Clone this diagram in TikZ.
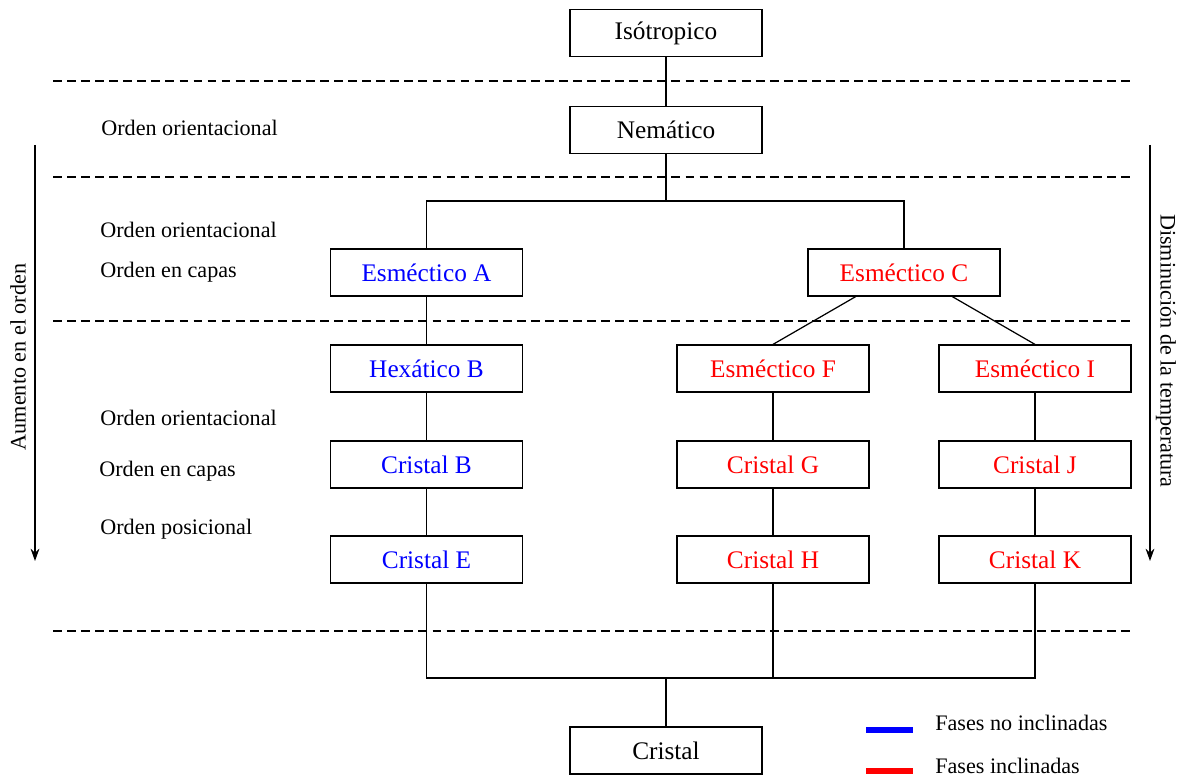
\documentclass[tikz,border=0pt]{standalone}
\usepackage{fontspec}
\setmainfont{Liberation Serif}
\usetikzlibrary{calc,arrows.meta}

\begin{document}
\begin{tikzpicture}[x=0.02cm,y=-0.02cm,
    fase/.style={draw, line width=0.7pt, minimum width=3.84cm, minimum height=0.94cm,
      inner sep=0pt, font=\fontsize{14.4}{17}\selectfont},
    etiqueta/.style={anchor=west, inner sep=0pt, font=\fontsize{12.6}{15}\selectfont},
    nivel/.style={dash pattern=on 5pt off 3pt, line width=0.6pt},
    enlace/.style={line width=0.7pt}]
  \useasboundingbox (0,0) rectangle (1181,776);

  % fases
  \node[fase] (I) at (666,33) {Isótropico};
  \node[fase] (N) at (666,130) {Nemático};
  \node[fase, text=blue] (A) at (426.5,272.5) {Esméctico A};
  \node[fase, text=red] (C) at (904,272.5) {Esméctico C};
  \node[fase, text=blue] (HB) at (426.5,368.5) {Hexático B};
  \node[fase, text=red] (F) at (773,368.5) {Esméctico F};
  \node[fase, text=red] (SI) at (1035,368.5) {Esméctico I};
  \node[fase, text=blue] (B) at (426.5,464.5) {Cristal B};
  \node[fase, text=red] (G) at (773,464.5) {Cristal G};
  \node[fase, text=red] (J) at (1035,464.5) {Cristal J};
  \node[fase, text=blue] (E) at (426.5,559.5) {Cristal E};
  \node[fase, text=red] (H) at (773,559.5) {Cristal H};
  \node[fase, text=red] (K) at (1035,559.5) {Cristal K};
  \node[fase] (Cr) at (666,750.5) {Cristal};

  % niveles
  \draw[nivel] (53,81) -- (1135,81);
  \draw[nivel] (53,177) -- (1135,177);
  \draw[nivel] (53,321) -- (1135,321);
  \draw[nivel] (53,631) -- (1135,631);

  % enlaces
  \coordinate (arriba) at (0,201);
  \coordinate (abajo) at (0,678);
  \draw[enlace] (I) -- (N);
  \draw[enlace] (N.south) -- (N.south |- arriba) -| (A.north);
  \draw[enlace] (N.south |- arriba) -| (C.north);
  \draw[enlace] (A) -- (HB);
  \draw[enlace] ($(C.south west)!.25!(C.south east)$) -- (F.north);
  \draw[enlace] ($(C.south west)!.75!(C.south east)$) -- (SI.north);
  \draw[enlace] (HB) -- (B);
  \draw[enlace] (B) -- (E);
  \draw[enlace] (F) -- (G);
  \draw[enlace] (G) -- (H);
  \draw[enlace] (SI) -- (J);
  \draw[enlace] (J) -- (K);
  \draw[enlace] (E.south) -- (E.south |- abajo) -- (K.south |- abajo) -- (K.south);
  \draw[enlace] (H.south) -- (H.south |- abajo);
  \draw[enlace] (Cr.north) -- (Cr.north |- abajo);

  % ordenes
  \node[etiqueta] (o1) at (101,128) {Orden orientacional};
  \node[etiqueta] (o2) at (100,230) {Orden orientacional};
  \node[etiqueta] (o3) at (100,272) {Orden en capas};
  \node[etiqueta] (o4) at (100,418) {Orden orientacional};
  \node[etiqueta] (o5) at (99,471) {Orden en capas};
  \node[etiqueta] (o6) at (100,529) {Orden posicional};

  % flechas laterales
  \coordinate (izqA) at (35,145);
  \coordinate (izqB) at (35,561);
  \coordinate (derA) at (1150,145);
  \coordinate (derB) at (1150,561);
  \draw[line width=0.8pt, -{Stealth[length=7pt,width=5pt]}] (izqA) -- (izqB);
  \draw[line width=0.8pt, -{Stealth[length=7pt,width=5pt]}] (derA) -- (derB);
  \node[rotate=90, inner sep=0pt, font=\fontsize{12.6}{15}\selectfont] (orden) at (18,357) {Aumento en el orden};
  \node[rotate=-90, inner sep=0pt, font=\fontsize{12.6}{15}\selectfont] (temp) at (1166,351) {Disminución de la temperatura};

  % leyenda
  \draw[blue, line width=3.4pt] (866,730) -- (913,730);
  \draw[red, line width=3.4pt] (866,771) -- (913,771);
  \node[etiqueta] (l1) at (935,723) {Fases no inclinadas};
  \node[etiqueta] (l2) at (935,766) {Fases inclinadas};
\end{tikzpicture}
\end{document}
